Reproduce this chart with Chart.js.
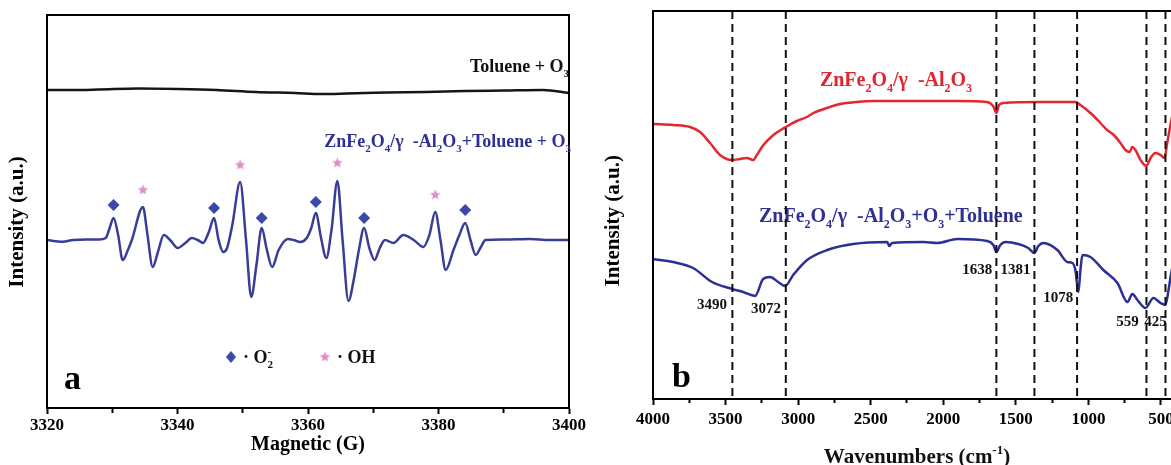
<!DOCTYPE html>
<html>
<head>
<meta charset="utf-8">
<script src="https://cdn.jsdelivr.net/npm/chart.js@4.4.0/dist/chart.umd.min.js"></script>
<style>
  html, body { margin: 0; padding: 0; background: #fff; }
  body { width: 1171px; height: 465px; overflow: hidden; position: relative; }
  #epr { position: absolute; left: 0; top: 0; }
  #ftir { position: absolute; left: 590px; top: 0; }
</style>
</head>
<body>
<canvas id="epr" width="590" height="465"></canvas>
<canvas id="ftir" width="600" height="475"></canvas>
<script>
// ---- panel a : EPR spectra ----
const toluField = [3320, 3324, 3328, 3334, 3340, 3346, 3352, 3358, 3362, 3366, 3372, 3378, 3384, 3390, 3396, 3400];
const toluSignal = [150, 150, 150.5, 151.5, 151, 150, 148, 147, 146, 146.5, 147.5, 148, 149, 149.5, 150, 147];

const eprField = [3320, 3322.4, 3324, 3326, 3328, 3329, 3329.6, 3330.2, 3330.9, 3331.6,
  3332.4, 3333.0, 3334.7, 3335.4, 3336.2, 3337.0, 3337.9, 3339.0, 3340.0, 3341.2,
  3342.2, 3343.1, 3343.9, 3344.8, 3345.6, 3346.3, 3347.0, 3347.6, 3348.4, 3349.6,
  3350.5, 3351.3, 3352.1, 3352.9, 3353.7, 3354.5, 3355.5, 3356.9, 3357.8, 3358.8,
  3359.8, 3360.5, 3361.2, 3362.0, 3362.8, 3363.6, 3364.5, 3365.3, 3366.2, 3367.0,
  3367.8, 3368.6, 3369.4, 3370.2, 3371.0, 3371.8, 3373.1, 3374.6, 3376.2, 3377.7,
  3378.6, 3379.5, 3380.3, 3381.1, 3382.3, 3383.2, 3384.1, 3384.9, 3385.7, 3386.5,
  3387.2, 3390, 3394, 3397, 3400];
const eprSignal = [0, -1.7, 0, 0.5, 0.5, 2, 12, 22, 5, -20,
  -10, 0, 33, 5, -27, -12, 5, -1, -8, -3,
  2, 0, -3, 8, 22, 0, -12, -8, 15, 58,
  0, -57, -25, 12, -10, -27, -10, 1, 0, -2,
  2, 12, 27, 2, -18, 10, 59, 0, -61, -40,
  -10, 12, -8, -20, -8, 0, -3, 5, 0, -7,
  5, 28, 0, -30, -10, 5, 17, 0, -15, -7,
  0, 0.5, 1, 0, 0];

// radical markers (O2- diamonds, OH stars)
const o2Field = [3330.2, 3345.6, 3352.9, 3361.2, 3368.6, 3384.1];
const o2Height = [35, 32, 22, 38, 22, 30];
const ohField = [3334.7, 3349.6, 3364.5, 3379.5];
const ohHeight = [50, 75, 77, 45];

// ---- panel b : FTIR spectra ----
const ftirTicks = [4000, 3750, 3500, 3250, 3000, 2750, 2500, 2250, 2000, 1750, 1500, 1250, 1000, 750, 500];

const redWn = [4000, 3860, 3745, 3676, 3607, 3538, 3457, 3400, 3354, 3308,
  3285, 3239, 3170, 3085, 3009, 2940, 2894, 2802, 2710, 2595,
  2481, 2297, 2136, 1906, 1699, 1653, 1634, 1616, 1584, 1331,
  1090, 1055, 986, 917, 871, 825, 779, 745, 715, 699,
  676, 641, 600, 572, 538, 503, 476, 457, 428, 394];
const redVal = [275, 274, 272, 267, 256, 244, 239, 240, 241, 239,
  244, 254, 264, 272, 278, 282, 286, 291, 295, 297,
  298, 298, 298, 298, 297, 292, 286, 294, 296, 297,
  297, 294, 286, 276, 269, 264, 256, 249, 247, 252,
  249, 239, 233, 241, 246, 244, 241, 256, 279, 299];

const blueWn = [4000, 3862, 3724, 3593, 3455, 3379, 3297, 3241, 3193, 3138,
  3090, 3034, 2938, 2800, 2621, 2386, 2372, 2352, 2138, 2041,
  1903, 1697, 1655, 1634, 1607, 1572, 1483, 1414, 1372, 1345,
  1310, 1214, 1145, 1110, 1090, 1069, 1055, 1041, 986, 897,
  800, 731, 697, 662, 607, 552, 503, 469, 448, 428, 400];
const blueVal = [140, 137, 131, 117, 110, 107, 103, 120, 122, 117,
  113, 124, 139, 149, 155, 157, 153, 156, 157, 156,
  160, 158, 154, 147, 154, 157, 155, 151, 146, 153,
  156, 149, 137, 136, 129, 107, 129, 144, 142, 129,
  116, 97, 105, 99, 91, 101, 96, 94, 109, 127, 144];

const markLines = [3453, 3085, 1634, 1372, 1078, 600, 469];
const peakText = ['3490', '3072', '1638', '1381', '1078', '559', '425'];
const peakTextWn = [3593, 3221, 1766, 1503, 1207, 731, 538];
const peakTextY = [94, 90, 129, 129, 101, 77, 77];

const SERIF = "'Liberation Serif', 'Times New Roman', serif";
const pts = (xs, ys) => xs.map((x, i) => ({x: x, y: ys[i]}));

function starImage(color, r) {
  const c = document.createElement('canvas');
  const s = Math.ceil(r * 2 + 2);
  c.width = s; c.height = s;
  const g = c.getContext('2d');
  g.fillStyle = color;
  g.beginPath();
  for (let i = 0; i < 10; i++) {
    const rad = i % 2 ? r * 0.45 : r;
    const a = -Math.PI / 2 + i * Math.PI / 5;
    const px = s / 2 + rad * Math.cos(a), py = s / 2 + rad * Math.sin(a);
    if (i) g.lineTo(px, py); else g.moveTo(px, py);
  }
  g.closePath();
  g.fill();
  return c;
}
const starPink = starImage('#dc8fc9', 5.5);

// text with _x subscripts and ^x superscripts
function drawChem(ctx, str, x, y, size, color, align) {
  const parts = [];
  for (let i = 0; i < str.length; i++) {
    const ch = str[i];
    if ((ch === '_' || ch === '^') && i + 1 < str.length) {
      parts.push({t: str[i + 1], m: ch});
      i++;
    } else {
      const last = parts[parts.length - 1];
      if (last && last.m === 'n') last.t += ch; else parts.push({t: ch, m: 'n'});
    }
  }
  const big = 'bold ' + size + 'px ' + SERIF;
  const small = 'bold ' + Math.round(size * 0.6) + 'px ' + SERIF;
  const widths = [];
  let w = 0;
  parts.forEach((p, k) => {
    ctx.font = p.m === 'n' ? big : small;
    let pw = ctx.measureText(p.t).width;
    if (p.m === '^' && k > 0 && parts[k - 1].m === '_') {
      p.back = widths[k - 1];
      pw = Math.max(0, pw - widths[k - 1]);
    }
    widths.push(pw);
    w += pw;
  });
  let cx = align === 'right' ? x - w : align === 'center' ? x - w / 2 : x;
  ctx.save();
  ctx.fillStyle = color;
  ctx.textAlign = 'left';
  ctx.textBaseline = 'alphabetic';
  parts.forEach((p, k) => {
    ctx.font = p.m === 'n' ? big : small;
    const dy = p.m === '_' ? size * 0.3 : p.m === '^' ? -size * 0.42 : 0;
    ctx.fillText(p.t, p.back ? cx - p.back : cx, y + dy);
    cx += widths[k];
  });
  ctx.restore();
}

const frame = {
  id: 'frame',
  afterDraw(chart) {
    const {ctx, chartArea: a} = chart;
    ctx.save();
    ctx.strokeStyle = '#000';
    ctx.lineWidth = 2;
    ctx.strokeRect(a.left, a.top, a.right - a.left, a.bottom - a.top);
    ctx.restore();
  }
};

const tickFont = {family: SERIF, size: 17, weight: 'bold'};
const titleFont = {family: SERIF, size: 20, weight: 'bold'};
const yTitleFont = {family: SERIF, size: 21, weight: 'bold'};
const nb = n => '\u00A0'.repeat(n);

// ---------------- chart a ----------------
const labelsA = {
  id: 'labelsA',
  afterDraw(chart) {
    const ctx = chart.ctx;
    drawChem(ctx, 'Toluene + O_3', 569, 72, 18, '#111', 'right');
    drawChem(ctx, 'ZnFe_2O_4/γ  -Al_2O_3+Toluene + O_3', 571, 147, 18, '#2e3192', 'right');
    // legend
    ctx.save();
    ctx.fillStyle = '#3b4aa8';
    ctx.beginPath();
    ctx.moveTo(231, 351); ctx.lineTo(236, 357); ctx.lineTo(231, 363); ctx.lineTo(226, 357);
    ctx.closePath(); ctx.fill();
    ctx.drawImage(starPink, 325 - starPink.width / 2, 357 - starPink.height / 2);
    ctx.restore();
    drawChem(ctx, '· O_2^-', 243, 363, 18, '#111', 'left');
    drawChem(ctx, '· OH', 337, 363, 18, '#111', 'left');
    ctx.save();
    ctx.font = 'bold 34px ' + SERIF;
    ctx.fillStyle = '#000';
    ctx.fillText('a', 64, 389);
    ctx.restore();
  }
};

new Chart(document.getElementById('epr'), {
  type: 'line',
  data: {
    datasets: [
      {data: pts(o2Field, o2Height), showLine: false, pointStyle: 'rectRot', pointRadius: 6,
        pointBackgroundColor: '#3b4aa8', pointBorderWidth: 0},
      {data: pts(ohField, ohHeight), showLine: false, pointStyle: starPink, pointRadius: 5},
      {data: pts(eprField, eprSignal), borderColor: '#393d98', borderWidth: 2.5, pointRadius: 0,
        cubicInterpolationMode: 'monotone'},
      {data: pts(toluField, toluSignal), borderColor: '#151515', borderWidth: 2.5, pointRadius: 0,
        cubicInterpolationMode: 'monotone'}
    ]
  },
  options: {
    responsive: false,
    animation: false,
    events: [],
    layout: {padding: {top: 15, right: 21, left: 0, bottom: 0}},
    plugins: {legend: {display: false}, tooltip: {enabled: false}},
    scales: {
      x: {
        type: 'linear', min: 3320, max: 3400,
        afterFit(s) { s.height = 57; s.paddingLeft = 0; s.paddingRight = 0; },
        ticks: {stepSize: 10, autoSkip: false, maxRotation: 0, padding: 1, color: '#000', font: tickFont,
          callback: v => (v % 20 === 0 ? v : '')},
        grid: {drawOnChartArea: false, drawTicks: true, tickLength: 6, tickWidth: 2, tickColor: '#000',
          tickBorderDash: c => (c.tick && c.tick.value % 20 !== 0 ? [4, 30] : [])},
        border: {display: true, color: '#000', width: 2},
        title: {display: true, text: 'Magnetic (G)', color: '#000', font: titleFont, padding: {top: 0, bottom: 8}}
      },
      y: {
        min: -168, max: 225,
        afterFit(s) { s.width = 47; },
        ticks: {display: false},
        grid: {display: false},
        border: {display: true, color: '#000', width: 2},
        title: {display: true, text: 'Intensity (a.u.)' + nb(4), color: '#000', font: yTitleFont,
          padding: {top: 5, bottom: 0}}
      }
    }
  },
  plugins: [frame, labelsA]
});

// ---------------- chart b ----------------
const labelsB = {
  id: 'labelsB',
  beforeDatasetsDraw(chart) {
    const ctx = chart.ctx;
    const xs = chart.scales.x, ys = chart.scales.y;
    drawChem(ctx, 'ZnFe_2O_4/γ  -Al_2O_3', 306, 86, 20, '#e2252c', 'center');
    drawChem(ctx, 'ZnFe_2O_4/γ  -Al_2O_3+O_3+Toluene', 169, 222, 20, '#2e3192', 'left');
    ctx.save();
    ctx.font = 'bold 15px ' + SERIF;
    ctx.fillStyle = '#111';
    ctx.textAlign = 'center';
    ctx.textBaseline = 'middle';
    peakText.forEach((t, i) => {
      ctx.fillText(t, xs.getPixelForValue(peakTextWn[i]), ys.getPixelForValue(peakTextY[i]));
    });
    ctx.restore();
  },
  afterDraw(chart) {
    const ctx = chart.ctx;
    drawChem(ctx, 'Wavenumbers (cm^-^1)', 327, 463, 21, '#111', 'center');
    ctx.save();
    ctx.font = 'bold 34px ' + SERIF;
    ctx.fillStyle = '#000';
    ctx.fillText('b', 82, 387);
    ctx.restore();
  }
};

const dashSets = markLines.map(wn => ({
  data: [{x: wn, y: 388}, {x: wn, y: 0}],
  borderColor: '#111', borderWidth: 2, borderDash: [8, 5], pointRadius: 0
}));

new Chart(document.getElementById('ftir'), {
  type: 'line',
  data: {
    datasets: dashSets.concat([
      {data: pts(redWn, redVal), borderColor: '#e4262d', borderWidth: 2.5, pointRadius: 0,
        cubicInterpolationMode: 'monotone'},
      {data: pts(blueWn, blueVal), borderColor: '#2c2f96', borderWidth: 2.5, pointRadius: 0,
        cubicInterpolationMode: 'monotone'}
    ])
  },
  options: {
    responsive: false,
    animation: false,
    events: [],
    layout: {padding: {top: 11, right: 0, left: 0, bottom: 0}},
    plugins: {legend: {display: false}, tooltip: {enabled: false}},
    scales: {
      x: {
        type: 'linear', min: 300, max: 4000, reverse: true,
        afterBuildTicks(s) { s.ticks = ftirTicks.map(v => ({value: v})); },
        afterFit(s) { s.height = 76; s.paddingLeft = 0; s.paddingRight = 0; },
        ticks: {autoSkip: false, maxRotation: 0, padding: 4, color: '#000', font: tickFont,
          callback: v => (v % 500 === 0 ? v : '')},
        grid: {drawOnChartArea: false, drawTicks: true, tickLength: 6, tickWidth: 2, tickColor: '#000',
          tickBorderDash: c => (c.tick && c.tick.value % 500 !== 0 ? [3, 30] : [])},
        border: {display: true, color: '#000', width: 2}
      },
      y: {
        min: 0, max: 388,
        afterFit(s) { s.width = 63; },
        ticks: {display: false},
        grid: {display: false},
        border: {display: true, color: '#000', width: 2},
        title: {display: true, text: 'Intensity (a.u.)' + nb(6), color: '#000', font: yTitleFont,
          padding: {top: 11, bottom: 0}}
      }
    }
  },
  plugins: [frame, labelsB]
});
</script>
</body>
</html>
